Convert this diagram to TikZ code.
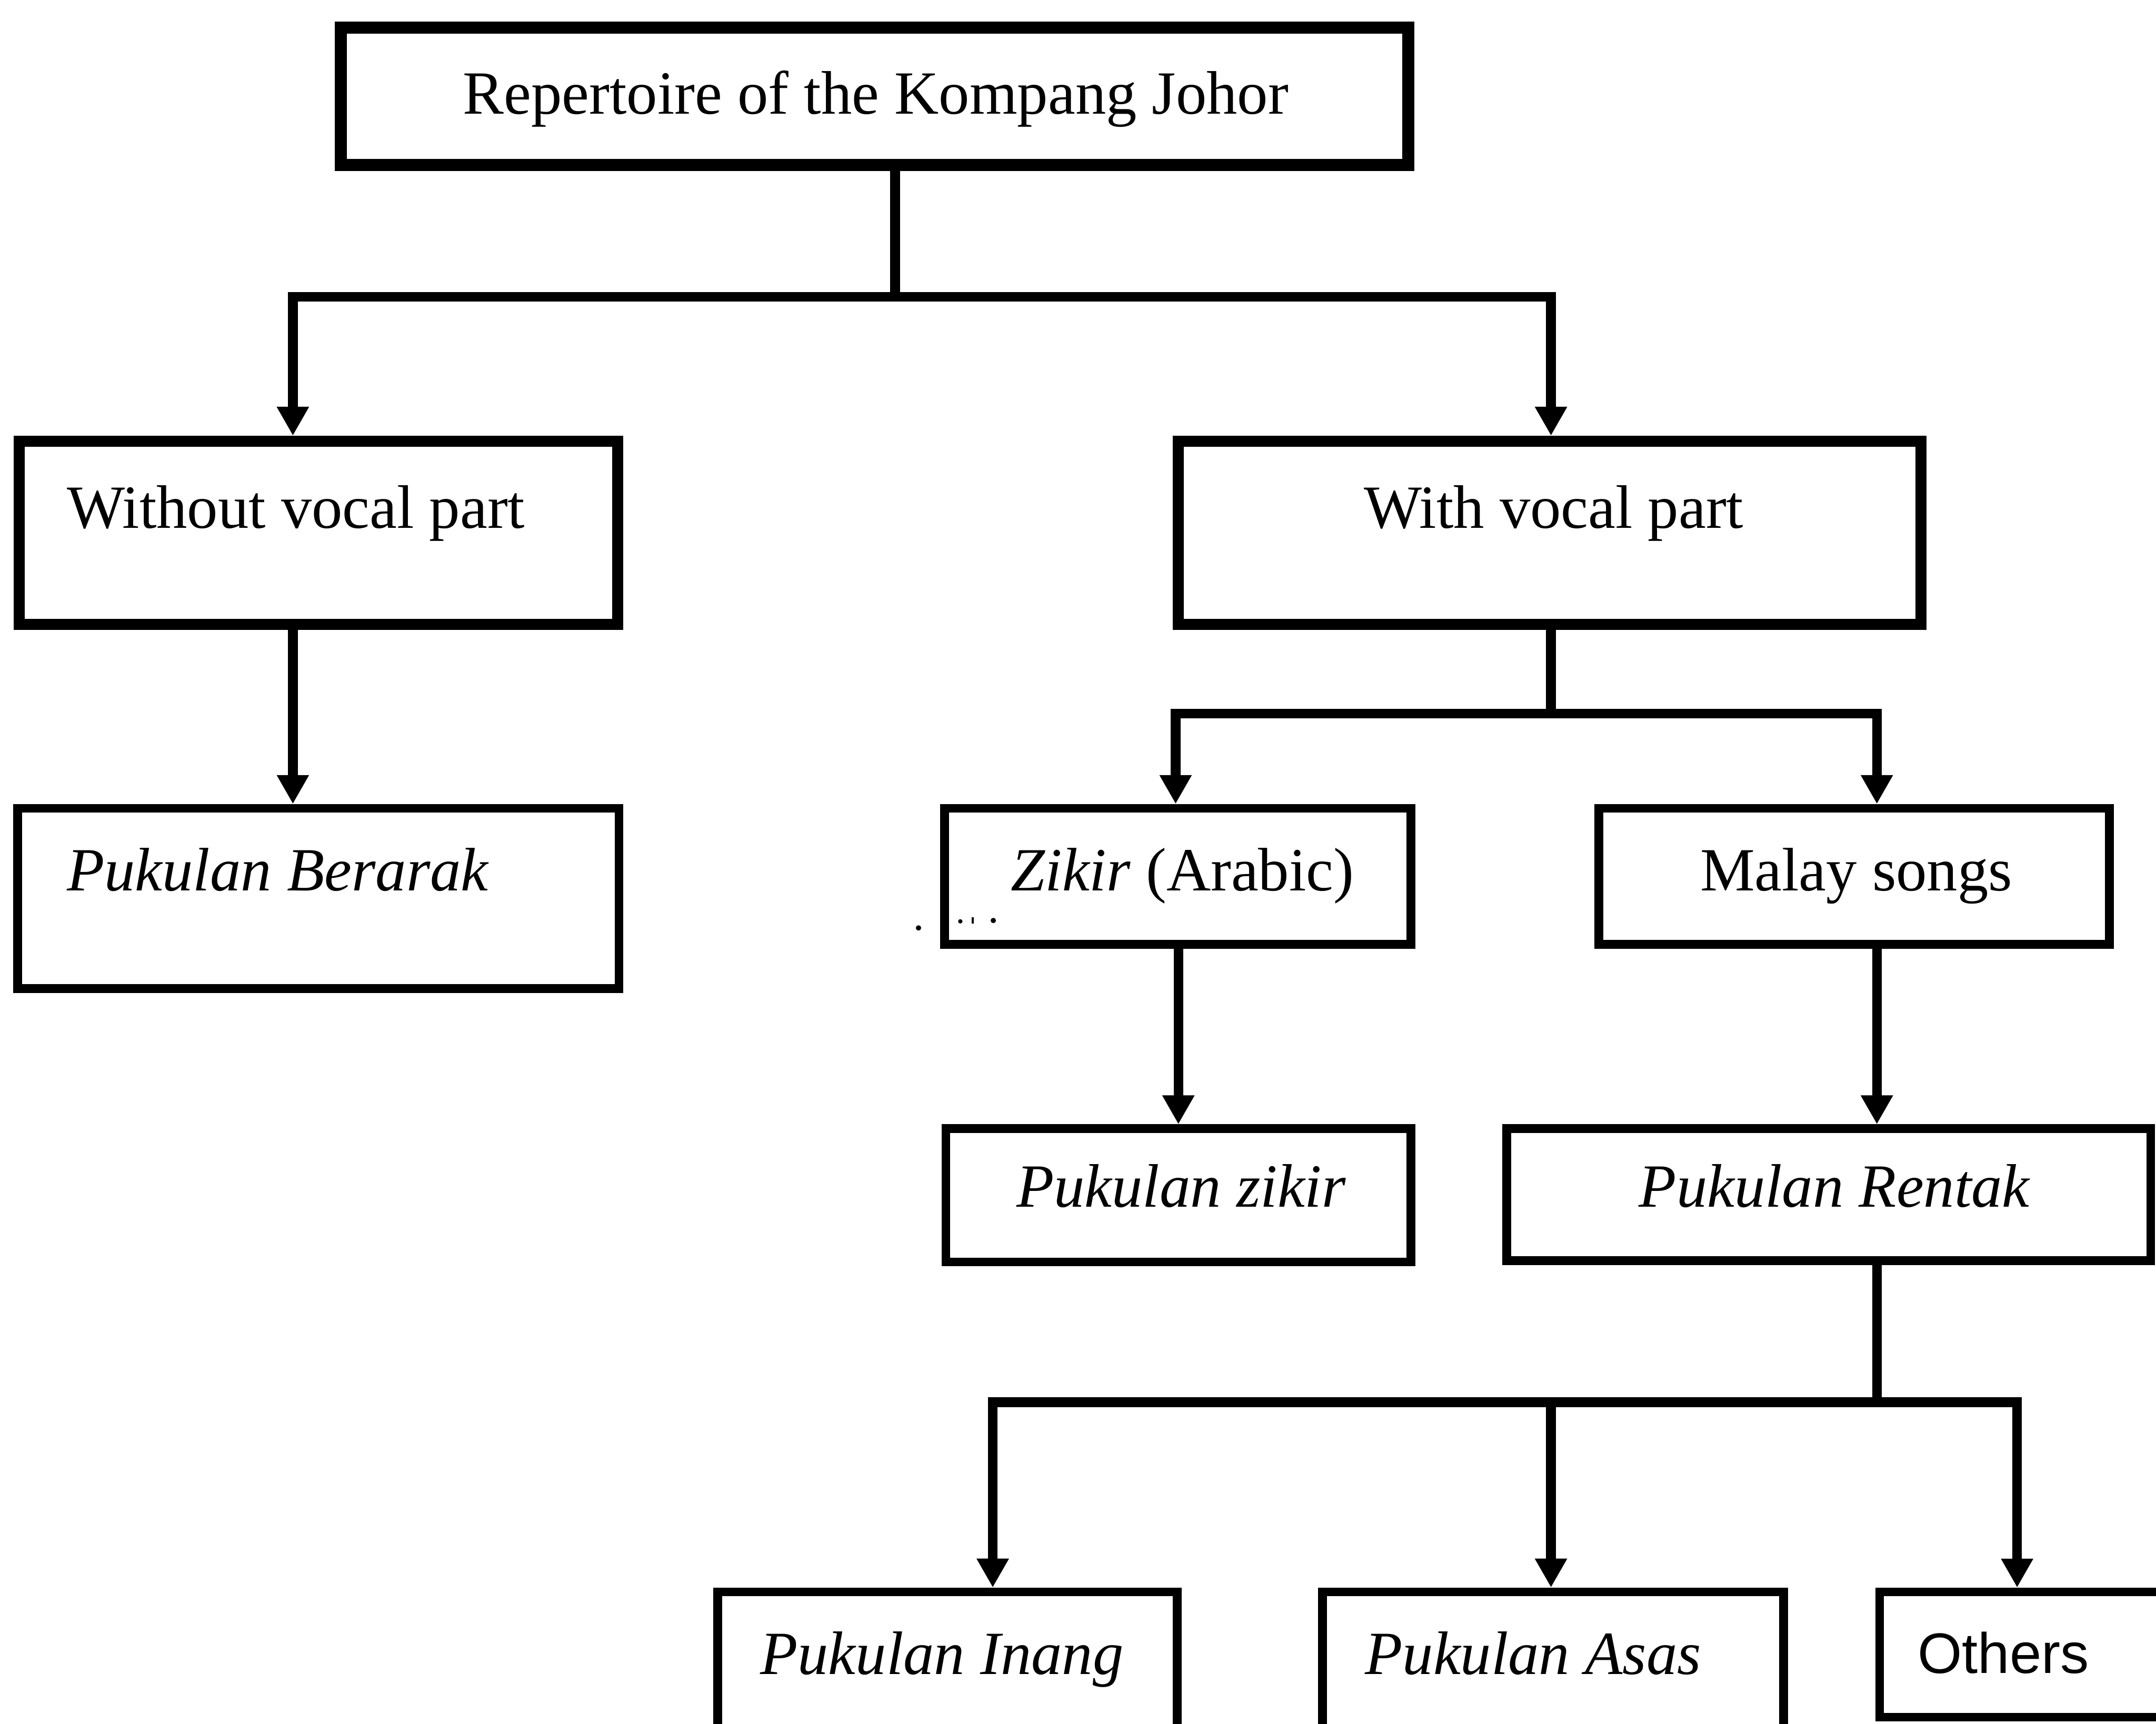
\documentclass[tikz,border=0pt]{standalone}
\usepackage{fontspec}
\setmainfont{Liberation Serif}
\newfontfamily\othersfont{Liberation Sans}
\usetikzlibrary{arrows.meta}

\begin{document}
\begin{tikzpicture}[x=0.01cm, y=-0.01cm,
  font=\fontsize{12.7}{15}\selectfont,
  boxbase/.style={draw, rectangle, inner sep=0pt},
  heavybox/.style={boxbase, line width=2.5pt},
  midbox/.style={boxbase, line width=2.3pt},
  lightbox/.style={boxbase, line width=1.8pt},
  conn/.style={line width=2pt, line join=miter},
  arr/.style={conn, -{Triangle[length=0.21cm, width=0.22cm]}},
  lbl/.style={inner sep=0pt, anchor=base},
  lblw/.style={inner sep=0pt, anchor=base west}
]
\fill[white] (0,0) rectangle (1568,1254);
\useasboundingbox (0,0) rectangle (1568,1254);
\clip (0,0) rectangle (1568,1254);

% boxes
\node[heavybox, minimum width=7.76cm, minimum height=1.00cm] (top)     at (636,70) {};
\node[midbox,   minimum width=4.35cm, minimum height=1.33cm] (without) at (231.5,387.5) {};
\node[midbox,   minimum width=5.40cm, minimum height=1.33cm] (with)    at (1127,387.5) {};
\node[lightbox, minimum width=4.37cm, minimum height=1.31cm] (berarak) at (231.5,653.5) {};
\node[lightbox, minimum width=3.39cm, minimum height=0.99cm] (zikir)   at (856.5,637.5) {};
\node[lightbox, minimum width=3.71cm, minimum height=0.99cm] (malay)   at (1348.5,637.5) {};
\node[lightbox, minimum width=3.38cm, minimum height=0.97cm] (pzikir)  at (857,869.5) {};
\node[lightbox, minimum width=4.68cm, minimum height=0.96cm] (rentak)  at (1330,869) {};
\node[lightbox, minimum width=3.34cm, minimum height=1.42cm] (inang)   at (689,1229) {};
\node[lightbox, minimum width=3.35cm, minimum height=1.42cm] (asas)    at (1129.5,1229) {};
\node[lightbox, minimum width=2.13cm, minimum height=0.91cm] (others)  at (1473.5,1203.5) {};

% labels
\node[lbl]  (top-t)     at (637,83)   {Repertoire of the Kompang Johor};
\node[lblw] (without-t) at (48,384)   {Without vocal part};
\node[lbl]  (with-t)    at (1130,384) {With vocal part};
\node[lblw] (berarak-t) at (48,648)   {\itshape Pukulan Berarak};
\node[lbl]  (zikir-t)   at (860,648)  {\textit{Zikir} (Arabic)};
\node[lbl]  (malay-t)   at (1350,648) {Malay songs};
\node[lbl]  (pzikir-t)  at (859,878)  {\itshape Pukulan zikir};
\node[lbl]  (rentak-t)  at (1334,878) {\itshape Pukulan Rentak};
\node[lbl]  (inang-t)   at (685,1218) {\itshape Pukulan Inang};
\node[lbl]  (asas-t)    at (1115,1218) {\itshape Pukulan Asas};
\node[lbl]  (others-t)  at (1457,1217) {\othersfont\fontsize{11.8}{14}\selectfont Others};

% junction points
\coordinate (j1)  at (651,216);
\coordinate (j1l) at (213,216);
\coordinate (j1r) at (1128,216);
\coordinate (j2)  at (1128,519);
\coordinate (j2l) at (855,519);
\coordinate (j2r) at (1365,519);
\coordinate (j3)  at (1365,1020);
\coordinate (j3l) at (722,1020);
\coordinate (j3m) at (1128,1020);
\coordinate (j3r) at (1467,1020);

% first level
\draw[conn] (j1 |- top.south) -- (j1);
\draw[arr] (j1) -| (j1l |- without.north);
\draw[arr] (j1) -| (j1r |- with.north);

% without vocal part
\draw[arr] (j1l |- without.south) -- (j1l |- berarak.north);

% with vocal part
\draw[conn] (j2 |- with.south) -- (j2);
\draw[arr] (j2) -| (j2l |- zikir.north);
\draw[arr] (j2) -| (j2r |- malay.north);

\draw[arr] (857,0 |- zikir.south) -- (857,0 |- pzikir.north);
\draw[arr] (j2r |- malay.south) -- (j2r |- rentak.north);

% rentak branches
\draw[conn] (j3 |- rentak.south) -- (j3);
\draw[arr] (j3) -| (j3l |- inang.north);
\draw[conn] (j3l) -- (j3);
\draw[arr] (j3m) -- (j3m |- asas.north);
\draw[arr] (j3) -| (j3r |- others.north);

% small specks beside the Zikir box
\fill (668,675) circle (0.55pt);
\fill (698.4,670.2) circle (0.45pt);
\fill (706.8,667.2) rectangle (708.2,672);
\fill (722.4,669.6) circle (0.55pt);
\end{tikzpicture}
\end{document}
